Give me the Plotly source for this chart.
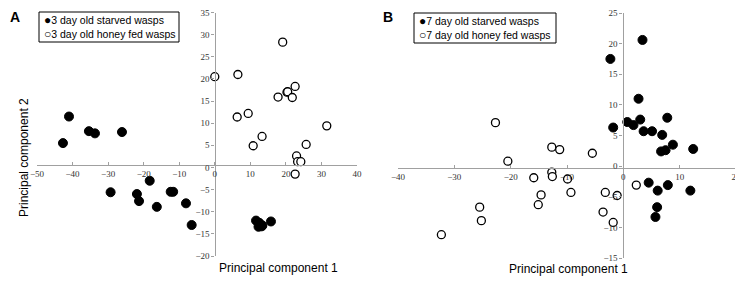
import plotly.graph_objects as go

# Panel A: 3 day old wasps
a_starved_x = [-41.0, -35.4, -33.7, -26.1, -42.7, -29.3, -21.9, -21.3, -18.3, -16.3,
               -12.4, -11.7, -8.1, -6.5, 11.6, 12.5, 13.2, 12.3, 13.4, 15.8]
a_starved_y = [11.5, 8.2, 7.7, 8.0, 5.5, -5.6, -6.0, -7.6, -3.0, -8.9,
               -5.5, -5.5, -8.1, -13.0, -12.0, -12.5, -13.3, -13.4, -13.1, -12.2]
a_honey_x = [0.0, 6.5, 6.3, 9.4, 13.3, 19.1, 17.8, 20.3, 20.5, 21.8,
             22.6, 31.5, 10.8, 25.7, 23.0, 23.3, 24.2, 22.6]
a_honey_y = [20.5, 21.0, 11.4, 12.2, 7.0, 28.3, 15.9, 17.0, 17.1, 15.8,
             18.3, 9.4, 4.9, 5.2, 2.6, 1.3, 1.3, -1.5]

# Panel B: 7 day old wasps
b_starved_x = [-2.3, 3.4, 2.7, -1.8, 0.7, 1.8, 3.0, 3.6, 5.1, 6.9, 7.8,
               6.7, 7.5, 8.8, 12.4, 4.5, 6.1, 7.9, 11.9, 6.0, 5.7]
b_starved_y = [17.5, 20.6, 11.0, 6.3, 7.2, 6.7, 7.6, 5.7, 5.7, 5.1, 7.9,
               2.4, 2.6, 3.5, 2.8, -2.7, -4.0, -3.1, -4.0, -6.7, -8.3]
b_honey_x = [-22.7, -20.5, -12.7, -11.3, -5.5, -15.9, -12.7, -12.6, -9.9, -9.3,
             -14.6, -15.1, -25.5, -25.2, -32.3, -3.2, -1.1, -3.6, -1.8, 2.3]
b_honey_y = [7.1, 0.8, 3.1, 2.7, 2.1, -1.9, -1.0, -1.7, -2.1, -4.3,
             -4.7, -6.3, -6.7, -8.9, -11.2, -4.3, -4.8, -7.5, -9.2, -3.1]

a_xticks = [-50, -40, -30, -20, -10, 0, 10, 20, 30, 40]
a_yticks = [-20, -15, -10, -5, 0, 5, 10, 15, 20, 25, 30, 35]
b_xticks = [-40, -30, -20, -10, 0, 10, 20]
b_yticks = [-15, -10, -5, 0, 5, 10, 15, 20, 25]

a_legend = ["3 day old starved wasps", "3 day old honey fed wasps"]
b_legend = ["7 day old starved wasps", "7 day old honey fed wasps"]

# The page body has an 8px margin, so the figure is offset by 8px on screen.
OFF = 8
W, H = 743 - OFF, 285 - OFF
def px(v): return min(1.0, max(0.0, (v - OFF) / W))
def py(v): return min(1.0, max(0.0, (H - (v - OFF)) / H))

fig = go.Figure()
filled = dict(size=9, color="black", line=dict(color="black", width=1))
opened = dict(size=8, color="white", line=dict(color="black", width=1.3))

fig.add_trace(go.Scatter(x=a_starved_x, y=a_starved_y, mode="markers", marker=filled,
                         name=a_legend[0], xaxis="x", yaxis="y", showlegend=False))
fig.add_trace(go.Scatter(x=a_honey_x, y=a_honey_y, mode="markers", marker=opened,
                         name=a_legend[1], xaxis="x", yaxis="y", showlegend=False))
fig.add_trace(go.Scatter(x=b_starved_x, y=b_starved_y, mode="markers", marker=filled,
                         name=b_legend[0], xaxis="x2", yaxis="y2", showlegend=False))
fig.add_trace(go.Scatter(x=b_honey_x, y=b_honey_y, mode="markers", marker=opened,
                         name=b_legend[1], xaxis="x2", yaxis="y2", showlegend=False))

tickfont = dict(family="Liberation Serif", size=9, color="#333")
axbase = dict(showgrid=False, zeroline=False, showline=True, linecolor="#a0a0a0", linewidth=1.3,
              ticklen=3, tickcolor="#a0a0a0", tickfont=tickfont, automargin=False,
              ticklabeloverflow="allow")
xcommon = dict(ticks="inside", **axbase)
ycommon = dict(ticks="outside", **axbase)

a_xd = [px(37), px(357)]
a_yd = [py(256), py(12.5)]
b_xd = [px(398), px(736)]
b_yd = [py(258), py(13)]

sans = "Liberation Sans"
def legend_box(x0, y0, x1, y1, labels):
    shapes = [dict(type="rect", xref="paper", yref="paper", x0=px(x0), x1=px(x1),
                   y0=py(y1), y1=py(y0), line=dict(color="black", width=1), fillcolor="white")]
    anns = []
    glyphs = ["●", "○"]
    for i, lab in enumerate(labels):
        anns.append(dict(text=f"<span style='font-size:12px'>{glyphs[i]}</span>{lab}",
                         x=px(x0 + 3), y=py(y0 + 8 + 14 * i), xref="paper", yref="paper",
                         xanchor="left", yanchor="middle", showarrow=False,
                         font=dict(family=sans, size=10.5, color="black")))
    return shapes, anns

sa, aa = legend_box(39, 12, 179, 42, a_legend)
sb, ab = legend_box(414, 13, 556, 43, b_legend)

fig.update_layout(
    width=W, height=H, margin=dict(l=0, r=0, t=0, b=0, autoexpand=False),
    paper_bgcolor="white", plot_bgcolor="white", showlegend=False,
    xaxis=dict(domain=a_xd, range=[-50, 40], tickvals=a_xticks, anchor="free",
               position=py(165), **xcommon),
    yaxis=dict(domain=a_yd, range=[-20, 35], tickvals=a_yticks, anchor="free",
               position=px(214.5), **ycommon),
    xaxis2=dict(domain=b_xd, range=[-40, 20], tickvals=b_xticks, anchor="free",
                position=py(168), **xcommon),
    yaxis2=dict(domain=b_yd, range=[-15, 25], tickvals=b_yticks, anchor="free",
                position=px(622.5), **ycommon),
    shapes=sa + sb,
    annotations=[
        dict(text="<b>A</b>", x=px(6), y=py(17), xref="paper", yref="paper", xanchor="left",
             yanchor="middle", showarrow=False, font=dict(family=sans, size=14, color="black")),
        dict(text="<b>B</b>", x=px(381), y=py(17), xref="paper", yref="paper", xanchor="left",
             yanchor="middle", showarrow=False, font=dict(family=sans, size=14, color="black")),
        dict(text="Principal component 1", x=px(217), y=py(277), xref="paper", yref="paper",
             showarrow=False, font=dict(family=sans, size=12, color="black")),
        dict(text="Principal component 1", x=px(630), y=py(277.5), xref="paper", yref="paper",
             showarrow=False, font=dict(family=sans, size=12, color="black")),
        dict(text="Principal component 2", x=px(15), y=py(158), xref="paper", yref="paper",
             showarrow=False, textangle=-90, font=dict(family=sans, size=12, color="black")),
    ] + aa + ab,
)

fig.write_html("out.html")
